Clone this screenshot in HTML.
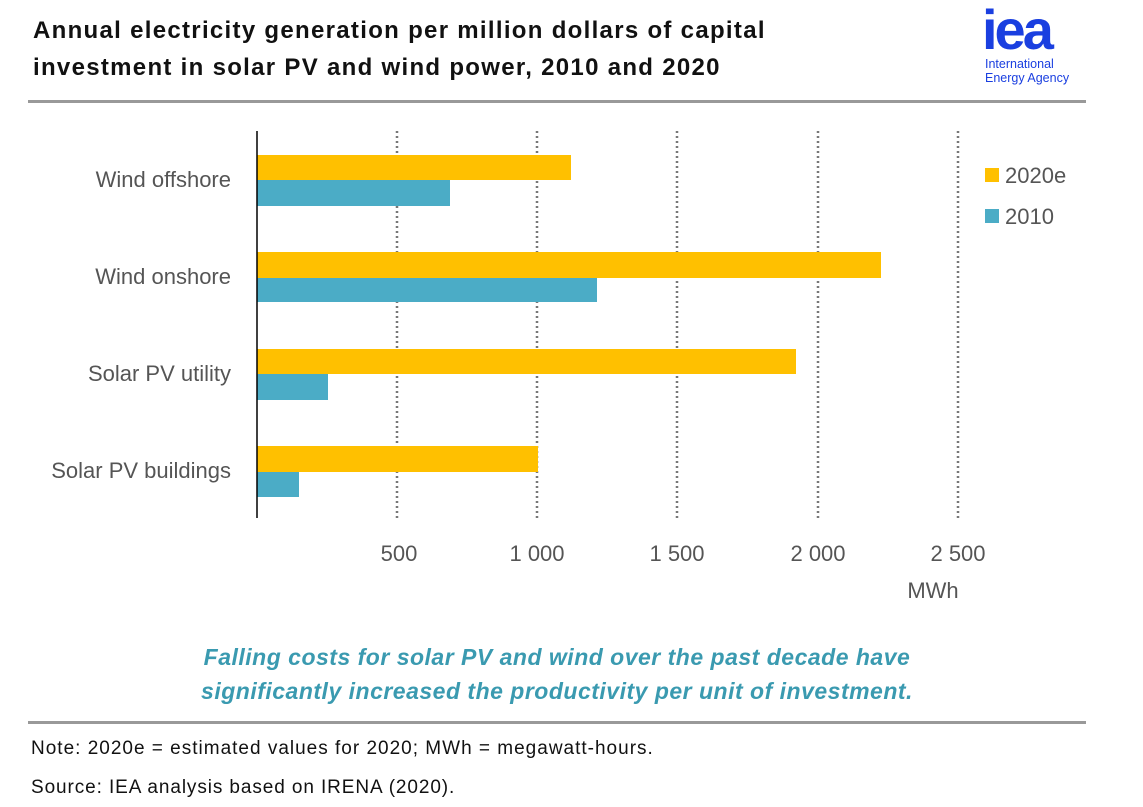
<!DOCTYPE html>
<html><head><meta charset="utf-8"><style>
body{margin:0;width:1143px;height:807px;background:#fff;position:relative;overflow:hidden;font-family:"Liberation Sans",sans-serif}
.a{position:absolute}
</style></head><body>
<div class="a" style="left:33px;top:12px;font-size:24px;font-weight:bold;line-height:37px;color:#111;letter-spacing:1.3px;white-space:nowrap">Annual electricity generation per million dollars of capital<br>investment in solar PV and wind power, 2010 and 2020</div>
<div class="a" style="left:982px;top:2px;font-size:56px;font-weight:bold;color:#1a3fe0;letter-spacing:-3px;line-height:56px">iea</div>
<div class="a" style="left:985px;top:57px;font-size:12.5px;color:#1a3fe0;line-height:14px">International<br>Energy Agency</div>
<div class="a" style="left:28px;top:100px;width:1058px;height:3px;background:#999"></div>
<svg class="a" style="left:0;top:0" width="1143" height="807">
<g stroke="#777" stroke-width="2.5" stroke-dasharray="2,3">
<line x1="397" y1="131" x2="397" y2="518"/><line x1="537" y1="131" x2="537" y2="518"/><line x1="677" y1="131" x2="677" y2="518"/><line x1="818" y1="131" x2="818" y2="518"/><line x1="958" y1="131" x2="958" y2="518"/></g>
<g fill="#FFC000"><rect x="257" y="155" width="314" height="25"/><rect x="257" y="252" width="624" height="26"/><rect x="257" y="349" width="539" height="25"/><rect x="257" y="446" width="281" height="26"/></g>
<g fill="#4BACC6"><rect x="257" y="180" width="193" height="26"/><rect x="257" y="278" width="340" height="24"/><rect x="257" y="374" width="71" height="26"/><rect x="257" y="472" width="42" height="25"/></g>
<line x1="257" y1="131" x2="257" y2="518" stroke="#000" stroke-width="1.5"/>
<rect x="985" y="168" width="14" height="14" fill="#FFC000"/><rect x="985" y="209" width="14" height="14" fill="#4BACC6"/>
<g font-family="Liberation Sans,sans-serif" font-size="22" fill="#555">
<text x="231" y="187" text-anchor="end">Wind offshore</text>
<text x="231" y="284" text-anchor="end">Wind onshore</text>
<text x="231" y="381" text-anchor="end">Solar PV utility</text>
<text x="231" y="478" text-anchor="end">Solar PV buildings</text>
<text x="1005" y="183">2020e</text><text x="1005" y="224">2010</text>
<text x="399" y="561" text-anchor="middle">500</text>
<text x="537" y="561" text-anchor="middle">1 000</text>
<text x="677" y="561" text-anchor="middle">1 500</text>
<text x="818" y="561" text-anchor="middle">2 000</text>
<text x="958" y="561" text-anchor="middle">2 500</text>
<text x="933" y="598" text-anchor="middle">MWh</text>
</g></svg>
<div class="a" style="left:0;top:640px;width:1114px;text-align:center;font-size:23px;font-style:italic;font-weight:bold;color:#3a9ab0;line-height:34px;letter-spacing:0.5px;white-space:nowrap">Falling costs for solar PV and wind over the past decade have<br>significantly increased the productivity per unit of investment.</div>
<div class="a" style="left:28px;top:721px;width:1058px;height:3px;background:#999"></div>
<div class="a" style="left:31px;top:738px;font-size:19px;color:#111;letter-spacing:1px;white-space:nowrap">Note: 2020e = estimated values for 2020; MWh = megawatt-hours.</div>
<div class="a" style="left:31px;top:777px;font-size:19px;color:#111;letter-spacing:0.9px;white-space:nowrap">Source: IEA analysis based on IRENA (2020).</div>
</body></html>
